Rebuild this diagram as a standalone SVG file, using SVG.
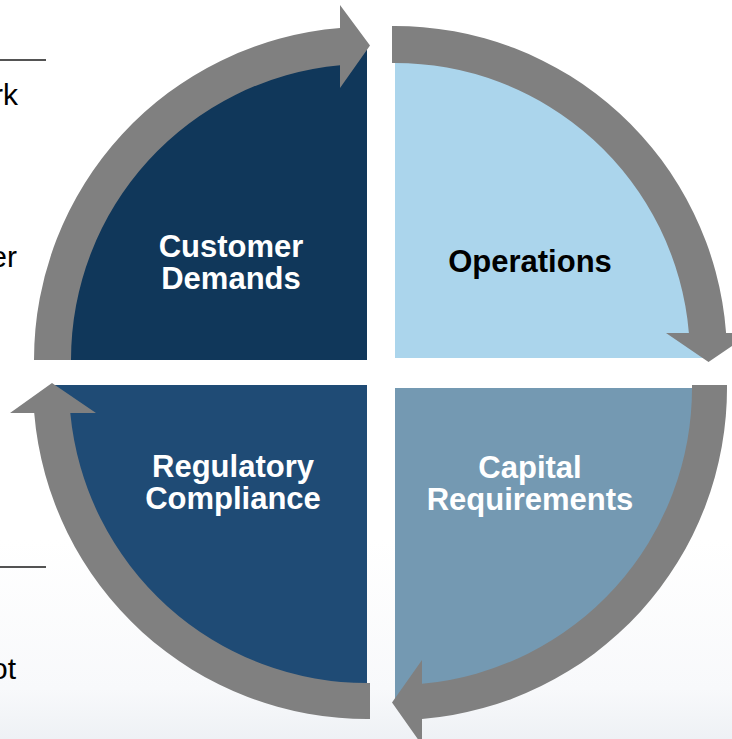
<svg xmlns="http://www.w3.org/2000/svg" width="732" height="739" viewBox="0 0 732 739">
  <defs>
    <linearGradient id="haze" x1="0" y1="0" x2="0" y2="1">
      <stop offset="0" stop-color="#ffffff"/>
      <stop offset="0.75" stop-color="#f8f9fb"/>
      <stop offset="1" stop-color="#eef1f5"/>
    </linearGradient>
  </defs>
  <style>
    .label { font-family: "Liberation Sans", Arial, sans-serif; font-weight: bold; font-size: 31px; text-anchor: middle; }
    .side { font-family: "Liberation Sans", Arial, sans-serif; font-size: 30px; fill: #000000; text-anchor: end; }
    .rule { stroke: #1a1a1a; stroke-width: 1.5; }
    .ring { fill: #808080; }
  </style>

  <!-- page background with soft lower haze -->
  <rect x="0" y="0" width="732" height="739" fill="#ffffff"/>
  <rect x="0" y="540" width="732" height="199" fill="url(#haze)"/>

  <!-- fragments of the neighbouring text column -->
  <g id="side-text">
    <line class="rule" x1="0" y1="60" x2="46" y2="60"/>
    <text class="side" x="18" y="105">rk</text>
    <text class="side" x="17" y="267">er</text>
    <line class="rule" x1="0" y1="567" x2="46" y2="567"/>
    <text class="side" x="16" y="679">ot</text>
  </g>

  <!-- quadrants -->
  <g id="customer-demands">
    <path d="M367,360 L53,360 A314,314 0 0 1 367,46 Z" fill="#10375a"/>
    <text class="label" x="231" y="257" fill="#ffffff">Customer</text>
    <text class="label" x="231" y="289" fill="#ffffff">Demands</text>
  </g>
  <g id="operations">
    <path d="M395,358 L395,45 A313,313 0 0 1 708,358 Z" fill="#abd5ec"/>
    <text class="label" x="530" y="272" fill="#000000">Operations</text>
  </g>
  <g id="capital-requirements">
    <path d="M395,388 L709,388 A314,314 0 0 1 395,702 Z" fill="#7499b2"/>
    <text class="label" x="530" y="478" fill="#ffffff">Capital</text>
    <text class="label" x="530" y="510" fill="#ffffff">Requirements</text>
  </g>
  <g id="regulatory-compliance">
    <path d="M367,385 L367,701 A316,316 0 0 1 51,385 Z" fill="#1f4b75"/>
    <text class="label" x="233" y="477" fill="#ffffff">Regulatory</text>
    <text class="label" x="233" y="509" fill="#ffffff">Compliance</text>
  </g>

  <!-- curved arrows running clockwise round the cycle -->
  <g id="connectors">
    <path class="ring" d="M34,360 A333,333 0 0 1 340,28.1 L340,5 L370,45.5 L340,88 L340,65.2 A296,296 0 0 0 71,360 Z"/>
    <path class="ring" d="M392,26 A332,332 0 0 1 726.1,333 L751,333 L708.5,362 L666,333 L688.9,333 A295,295 0 0 0 392,63 Z"/>
    <path class="ring" d="M727,385 A332,332 0 0 1 422,718.9 L422,745 L392,702.5 L422,660 L422,683.8 A297,297 0 0 0 692,385 Z"/>
    <path class="ring" d="M370,719 A334,334 0 0 1 34.2,413 L10,413 L52,383 L96,413 L70.3,413 A298,298 0 0 0 370,683 Z"/>
  </g>
</svg>
